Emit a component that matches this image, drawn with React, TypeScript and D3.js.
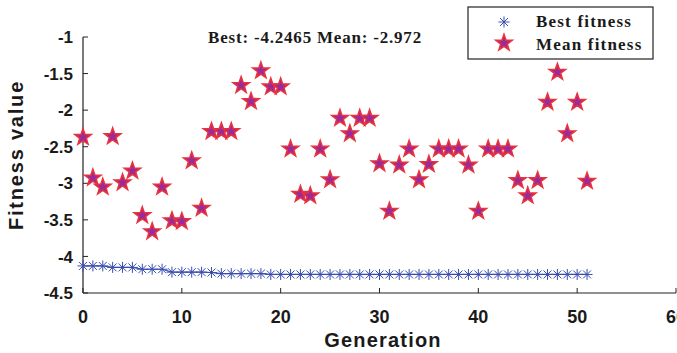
import * as d3 from 'd3';

const generation = [
  0, 1, 2, 3, 4, 5, 6, 7, 8, 9, 10, 11, 12, 13, 14, 15, 16, 17, 18, 19, 20, 21, 22, 23, 24, 25,
  26, 27, 28, 29, 30, 31, 32, 33, 34, 35, 36, 37, 38, 39, 40, 41, 42, 43, 44, 45, 46, 47, 48, 49, 50, 51,
];

const bestFitness = [
  -4.13, -4.13, -4.13, -4.15, -4.15, -4.15, -4.175, -4.175, -4.175, -4.215,
  -4.215, -4.215, -4.215, -4.22, -4.235, -4.235, -4.235, -4.235, -4.235, -4.2465,
  -4.2465, -4.2465, -4.2465, -4.2465, -4.2465, -4.2465, -4.2465, -4.2465, -4.2465, -4.2465,
  -4.2465, -4.2465, -4.2465, -4.2465, -4.2465, -4.2465, -4.2465, -4.2465, -4.2465, -4.2465,
  -4.2465, -4.2465, -4.2465, -4.2465, -4.2465, -4.2465, -4.2465, -4.2465, -4.2465, -4.2465,
  -4.2465, -4.2465,
];

const meanFitness = [
  -2.37, -2.925, -3.05, -2.36, -2.99, -2.83, -3.44, -3.66, -3.05, -3.51,
  -3.52, -2.69, -3.34, -2.29, -2.29, -2.29, -1.66, -1.88, -1.46, -1.68,
  -1.68, -2.53, -3.15, -3.17, -2.53, -2.95, -2.11, -2.32, -2.11, -2.11,
  -2.73, -3.38, -2.75, -2.53, -2.95, -2.74, -2.53, -2.53, -2.53, -2.75,
  -3.38, -2.53, -2.53, -2.53, -2.96, -3.17, -2.96, -1.89, -1.48, -2.32,
  -1.89, -2.97,
];

const xTicks = [0, 10, 20, 30, 40, 50, 60];
const yTicks = [-1, -1.5, -2, -2.5, -3, -3.5, -4, -4.5];

const titleText = 'Best: -4.2465 Mean: -2.972';

const BLUE = '#3a4eb0';
const STAR_FILL = '#9a2a9c';
const STAR_EDGE = '#e8323c';

// 5-point star path centred at 0,0
const starPath = (r: number) => {
  const inner = r * 0.4;
  const pts: string[] = [];
  for (let i = 0; i < 10; i++) {
    const a = -Math.PI / 2 + (i * Math.PI) / 5;
    const rr = i % 2 === 0 ? r : inner;
    pts.push(`${(rr * Math.cos(a)).toFixed(2)},${(rr * Math.sin(a)).toFixed(2)}`);
  }
  return 'M' + pts.join('L') + 'Z';
};

const Asterisk = ({ x, y, s }: { x: number; y: number; s: number }) => {
  const d = s * 0.72;
  return (
    <g stroke={BLUE} strokeWidth={1}>
      <line x1={x - s} y1={y} x2={x + s} y2={y} />
      <line x1={x} y1={y - s} x2={x} y2={y + s} />
      <line x1={x - d} y1={y - d} x2={x + d} y2={y + d} />
      <line x1={x - d} y1={y + d} x2={x + d} y2={y - d} />
    </g>
  );
};

export default function App() {
  const width = 677;
  const height = 353;
  const left = 83;
  const right = 676;
  const top = 37;
  const bottom = 293;

  const x = d3.scaleLinear().domain([0, 60]).range([left, right]);
  const y = d3.scaleLinear().domain([-4.5, -1]).range([bottom, top]);

  const bestLine = d3
    .line<number>()
    .x((_, i) => x(generation[i]))
    .y((d) => y(d));

  const star = starPath(8.5);

  return (
    <svg
      width={width}
      height={height}
      style={{ position: 'absolute', left: 0, top: 0, background: '#fff' }}
    >
      {/* axes */}
      <line x1={left} y1={top} x2={left} y2={bottom} stroke="#222" strokeWidth={1.2} />
      <line x1={left} y1={bottom} x2={right} y2={bottom} stroke="#222" strokeWidth={1.2} />

      {yTicks.map((t) => (
        <g key={'y' + t}>
          <line x1={left} x2={left + 5} y1={y(t)} y2={y(t)} stroke="#222" />
          <text
            x={left - 10}
            y={y(t)}
            dy="0.36em"
            textAnchor="end"
            fontFamily="Liberation Sans, Arial, sans-serif"
            fontWeight="bold"
            fontSize={17}
            fill="#1a1a1a"
          >
            {t}
          </text>
        </g>
      ))}

      {xTicks.map((t) => (
        <g key={'x' + t}>
          <line x1={x(t)} x2={x(t)} y1={bottom} y2={bottom - 5} stroke="#222" />
          <text
            x={x(t)}
            y={bottom + 30}
            textAnchor="middle"
            fontFamily="Liberation Sans, Arial, sans-serif"
            fontWeight="bold"
            fontSize={18}
            fill="#1a1a1a"
          >
            {t}
          </text>
        </g>
      ))}

      <text
        x={383}
        y={347}
        textAnchor="middle"
        fontFamily="Liberation Sans, Arial, sans-serif"
        fontWeight="bold"
        fontSize={20}
        letterSpacing={1.2}
        fill="#1a1a1a"
      >
        Generation
      </text>
      <text
        transform="translate(23,155) rotate(-90)"
        textAnchor="middle"
        fontFamily="Liberation Sans, Arial, sans-serif"
        fontWeight="bold"
        fontSize={20}
        letterSpacing={1.8}
        fill="#1a1a1a"
      >
        Fitness value
      </text>

      {/* best fitness: line with asterisks */}
      <path d={bestLine(bestFitness) ?? ''} fill="none" stroke={BLUE} strokeWidth={1.2} />
      {bestFitness.map((v, i) => (
        <Asterisk key={'b' + i} x={x(generation[i])} y={y(v)} s={5.5} />
      ))}

      {/* mean fitness: stars */}
      {meanFitness.map((v, i) => (
        <path
          key={'m' + i}
          d={star}
          transform={`translate(${x(generation[i])},${y(v)})`}
          fill={STAR_FILL}
          stroke={STAR_EDGE}
          strokeWidth={1.6}
          strokeLinejoin="miter"
        />
      ))}

      {/* title */}
      <text
        x={315}
        y={43}
        textAnchor="middle"
        fontFamily="Liberation Serif, Times New Roman, serif"
        fontWeight="bold"
        fontSize={17}
        letterSpacing={0.8}
        fill="#1a1a1a"
      >
        {titleText}
      </text>

      {/* legend */}
      <rect x={468} y={7} width={185} height={52} fill="#fff" stroke="#222" strokeWidth={1.2} />
      <Asterisk x={504} y={22} s={5.5} />
      <path d={star} transform="translate(504,43)" fill={STAR_FILL} stroke={STAR_EDGE} strokeWidth={1.6} />
      <text
        x={536}
        y={27}
        fontFamily="Liberation Serif, Times New Roman, serif"
        fontWeight="bold"
        fontSize={17}
        letterSpacing={1.2}
        fill="#1a1a1a"
      >
        Best fitness
      </text>
      <text
        x={536}
        y={50}
        fontFamily="Liberation Serif, Times New Roman, serif"
        fontWeight="bold"
        fontSize={17}
        letterSpacing={1.2}
        fill="#1a1a1a"
      >
        Mean fitness
      </text>
    </svg>
  );
}
